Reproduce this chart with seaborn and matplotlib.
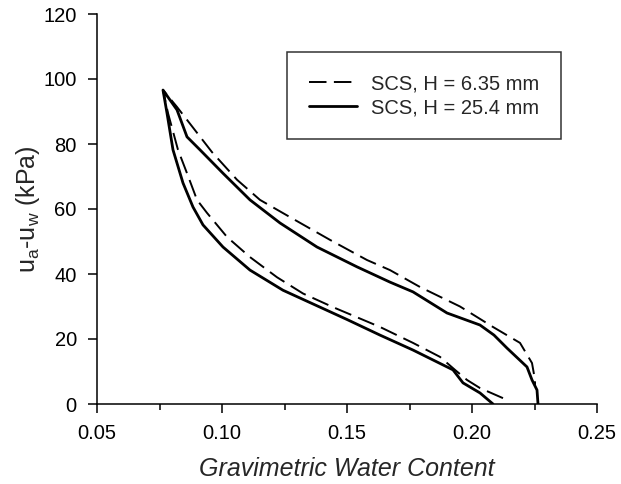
import matplotlib
matplotlib.use("Agg")
import matplotlib.pyplot as plt
from matplotlib.ticker import MultipleLocator
import seaborn as sns
import pandas as pd

sns.set_theme(style="ticks")
plt.rcParams['font.family'] = ['Liberation Sans', 'DejaVu Sans']
plt.rcParams['mathtext.fontset'] = 'custom'
plt.rcParams['mathtext.rm'] = 'Liberation Sans'
plt.rcParams['mathtext.it'] = 'Liberation Sans:italic'

# H = 6.35 mm (dashed): lower (wetting) branch up to apex, then upper (drying) branch down
x_635 = [0.2124, 0.2032, 0.1980, 0.1932, 0.1872, 0.1764, 0.1632, 0.1444, 0.1324, 0.1220, 0.1112,
         0.1020, 0.0940, 0.0900, 0.0860, 0.0824, 0.0784, 0.0764,
         0.0820, 0.0960, 0.1060, 0.1152, 0.1272, 0.1432, 0.1580, 0.1672, 0.1792, 0.1952,
         0.2084, 0.2192, 0.2240, 0.2252, 0.2252]
y_635 = [1.8, 4.9, 7.4, 10.5, 14.5, 18.8, 23.7, 29.8, 34.0, 39.0, 45.2,
         51.4, 58.8, 62.8, 71.0, 78.2, 89.5, 96.6,
         91.4, 77.5, 69.0, 62.8, 57.5, 50.5, 44.3, 41.2, 36.0, 30.0,
         23.7, 18.8, 12.6, 7.4, 5.5]

# H = 25.4 mm (solid)
x_254 = [0.2084, 0.2032, 0.1964, 0.1924, 0.1764, 0.1632, 0.1500, 0.1392, 0.1244, 0.1112, 0.1004,
         0.0924, 0.0884, 0.0844, 0.0804, 0.0780, 0.0764,
         0.0820, 0.0860, 0.0912, 0.1004, 0.1112, 0.1232, 0.1380, 0.1540, 0.1672, 0.1764,
         0.1900, 0.2032, 0.2088, 0.2140, 0.2220, 0.2240, 0.2260, 0.2264]
y_254 = [0.0, 3.4, 6.5, 10.5, 16.6, 21.2, 26.0, 29.8, 35.0, 41.2, 48.3,
         55.1, 60.6, 68.0, 78.2, 89.5, 96.6,
         90.5, 82.2, 78.2, 71.0, 62.8, 55.7, 48.3, 42.2, 37.5, 34.5,
         28.0, 24.3, 21.2, 17.2, 11.4, 7.4, 4.3, 0.0]

labels = ["SCS, H = 6.35 mm", "SCS, H = 25.4 mm"]
x_ticks = [0.05, 0.10, 0.15, 0.20, 0.25]
y_ticks = [0, 20, 40, 60, 80, 100, 120]

df1 = pd.DataFrame({"x": x_635, "y": y_635})
df2 = pd.DataFrame({"x": x_254, "y": y_254})

fig = plt.figure(figsize=(6.21, 4.84), dpi=100)
ax = fig.add_axes([97/621, 1-404/484, 500/621, 390/484])

dash = (9, 3.8)
sns.lineplot(data=df1, x="x", y="y", sort=False, estimator=None, ax=ax, color="black",
             lw=1.4, label=labels[0])
ax.lines[-1].set_dashes(dash)
sns.lineplot(data=df2, x="x", y="y", sort=False, estimator=None, ax=ax, color="black",
             lw=2.0, label=labels[1])

ax.set_xlim(0.05, 0.25)
ax.set_ylim(0, 120)
ax.set_xticks(x_ticks)
ax.set_xticklabels([f"{v:.2f}" for v in x_ticks])
ax.xaxis.set_minor_locator(MultipleLocator(0.025))
ax.set_yticks(y_ticks)
ax.tick_params(which="major", direction="out", length=6.5, width=1.1, pad=8,
               labelsize=14.5, colors="black")
ax.tick_params(which="minor", axis="x", direction="out", length=4, width=1.1, colors="black")
for sp in ["left", "bottom"]:
    ax.spines[sp].set_color("black")
    ax.spines[sp].set_linewidth(1.1)
sns.despine(ax=ax)

ax.set_xlabel("Gravimetric Water Content", fontsize=18, style="italic", labelpad=10)
ax.set_ylabel(r"u$_\mathrm{a}$-u$_\mathrm{w}$ (kPa)", fontsize=18, labelpad=1)

leg = ax.legend(loc="upper left", bbox_to_anchor=(0.38, 0.9026), fontsize=14.5, frameon=True,
                fancybox=False, edgecolor="black", handlelength=2.4, borderpad=1.1,
                labelspacing=0.25, handletextpad=0.65, borderaxespad=0)
leg.get_frame().set_linewidth(1.1)
leg.get_lines()[0].set_dashes(dash)

fig.savefig("out.png", dpi=100)
